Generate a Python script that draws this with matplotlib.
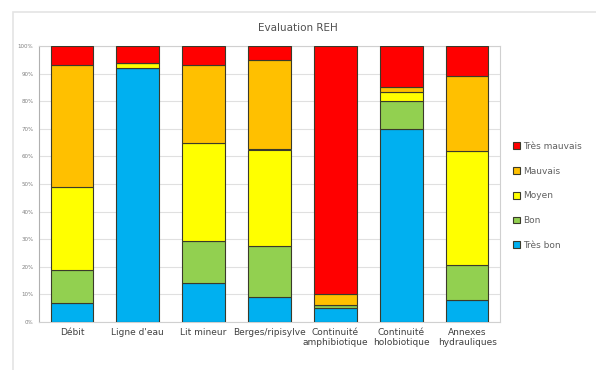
import matplotlib.pyplot as plt
import numpy as np
from matplotlib.patches import Rectangle

categories = ['Débit', "Ligne d'eau", 'Lit mineur', 'Berges/ripisylve',
              'Continuité\namphibiotique', 'Continuité\nholobiotique',
              'Annexes\nhydrauliques']

# percentages per class, bottom to top
tres_bon = [7, 92, 14, 9, 5, 70, 8]
bon = [12, 0, 15.5, 18.5, 1, 10, 12.5]
moyen = [30, 2, 35.5, 35, 0, 3.5, 41.5]
mauvais = [44, 0, 28, 32.5, 4, 1.5, 27]
tres_mauvais = [7, 6, 7, 5, 90, 15, 11]

series = [('Très bon', tres_bon, '#00B0F0'),
          ('Bon', bon, '#92D050'),
          ('Moyen', moyen, '#FFFF00'),
          ('Mauvais', mauvais, '#FFC000'),
          ('Très mauvais', tres_mauvais, '#FF0000')]

fig = plt.figure(figsize=(5.96, 3.7), dpi=100)
ax = fig.add_axes([39 / 596, 48 / 370, 461 / 596, 276 / 370])

# light frame around the chart
fig.patches.append(Rectangle((13 / 596, -0.05), 0.98, 1 - 12 / 370 + 0.05,
                             transform=fig.transFigure, fill=False,
                             edgecolor='#e4e4e4', linewidth=1.2))

x = np.arange(len(categories))
bottom = np.zeros(len(categories))
handles = []
for name, vals, color in series:
    vals = np.array(vals, dtype=float)
    b = ax.bar(x, vals, 0.65, bottom=bottom, color=color, edgecolor='#3a3a2a',
               linewidth=0.8, label=name, zorder=3)
    handles.append(b)
    bottom += vals

ax.set_xlim(-0.5, len(categories) - 0.5)
ax.set_ylim(0, 100)
ax.set_yticks(np.arange(0, 101, 10))
ax.set_yticklabels([f'{v}%' for v in range(0, 101, 10)], fontsize=4, color='#808080')
ax.set_xticks(x)
ax.set_xticklabels(categories, fontsize=6.5, color='#404040')
ax.tick_params(length=0, pad=4)
ax.yaxis.grid(True, color='#e0e0e0', linewidth=0.8, zorder=0)
for s in ax.spines.values():
    s.set_color('#d0d0d0')
    s.set_linewidth(0.8)
ax.spines['left'].set_color('#b0b0b0')

fig.text(0.5, 1 - 28 / 370, 'Evaluation REH', ha='center', va='center',
         fontsize=7.5, color='#505050')

ax.legend(handles[::-1], [h.get_label() for h in handles[::-1]],
          loc='center left', bbox_to_anchor=(1.01, 0.457), frameon=False,
          fontsize=6.5, labelcolor='#606060', handlelength=0.8, handleheight=0.8,
          handletextpad=0.3, labelspacing=1.75)

fig.savefig('out.png', dpi=100)
